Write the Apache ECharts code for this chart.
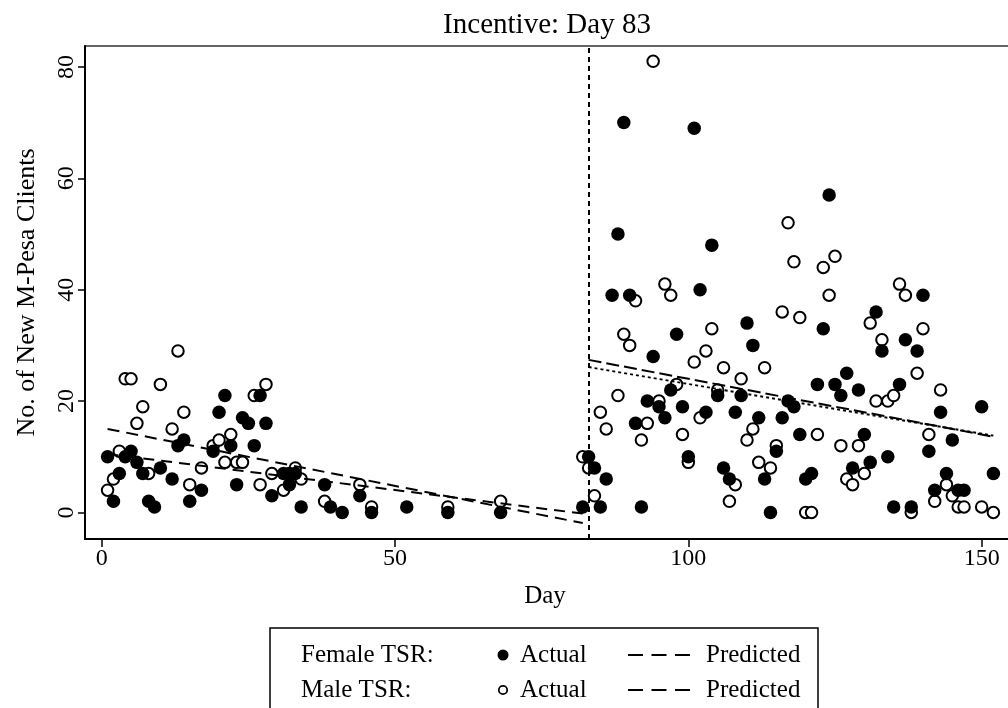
<!DOCTYPE html>
<html>
<head>
<meta charset="utf-8">
<script src="https://cdn.jsdelivr.net/npm/echarts@6/dist/echarts.min.js"></script>
<style>
html,body{margin:0;padding:0;background:#fff;}
#chart{width:1008px;height:708px;}
</style>
</head>
<body>
<div id="chart"></div>
<script>
// ---- data ----
const xTicks = [0, 50, 100, 150];
const yTicks = [0, 20, 40, 60, 80];
const incentiveDay = 83;

const femaleActual = [
  [1,10],[2,2],[3,7],[4,10],[5,11],[6,9],[7,7],[8,2],[9,1],[10,8],[12,6],[13,12],[14,13],[15,2],[17,4],
  [19,11],[20,18],[21,21],[22,12],[23,5],[24,17],[25,16],[26,12],[27,21],[28,16],[29,3],[31,7],[32,7],[32,5],
  [33,7],[34,1],[38,5],[39,1],[41,0],[44,3],[46,0],[52,1],[59,0],[68,0],[82,1],
  [83,10],[84,8],[85,1],[86,6],[87,39],[88,50],[89,70],[90,39],[91,16],[92,1],[93,20],[94,28],[95,19],[96,17],
  [97,22],[98,32],[99,19],[100,10],[101,69],[102,40],[103,18],[104,48],[105,21],[106,8],[107,6],[108,18],
  [109,21],[110,34],[111,30],[112,17],[113,6],[114,0],[115,11],[116,17],[117,20],[118,19],[119,14],[120,6],
  [121,7],[122,23],[123,33],[124,57],[125,23],[126,21],[127,25],[128,8],[129,22],[130,14],[131,9],[132,36],
  [133,29],[134,10],[135,1],[136,23],[137,31],[138,1],[139,29],[140,39],[141,11],[142,4],[143,18],[144,7],
  [145,13],[146,4],[147,4],[150,19],[152,7]
];

const maleActual = [
  [1,4],[2,6],[3,11],[4,24],[5,24],[6,16],[7,19],[8,7],[10,23],[12,15],[13,29],[14,18],[15,5],[17,8],
  [19,12],[20,13],[21,9],[22,14],[23,9],[24,9],[26,21],[27,5],[28,23],[29,7],[31,4],[33,8],[34,6],[38,2],
  [44,5],[46,1],[59,1],[68,2],
  [82,10],[83,8],[84,3],[85,18],[86,15],[88,21],[89,32],[90,30],[91,38],[92,13],[93,16],[94,81],[95,20],
  [96,41],[97,39],[98,23],[99,14],[100,9],[101,27],[102,17],[103,29],[104,33],[105,22],[106,26],[107,2],
  [108,5],[109,24],[110,13],[111,15],[112,9],[113,26],[114,8],[115,12],[116,36],[117,52],[118,45],[119,35],
  [120,0],[121,0],[122,14],[123,44],[124,39],[125,46],[126,12],[127,6],[128,5],[129,12],[130,7],[131,34],
  [132,20],[133,31],[134,20],[135,21],[136,41],[137,39],[138,0],[139,25],[140,33],[141,14],[142,2],[143,22],
  [144,5],[145,3],[146,1],[147,1],[150,1],[152,0]
];

const femalePredBefore = [[1,15.0],[82,-1.9]];
const malePredBefore   = [[1,10.5],[82,-0.2]];
const femalePredAfter  = [[83,27.4],[152,13.6]];
const malePredAfter    = [[83,26.1],[152,13.8]];

// ---- chart ----
const FONT = 'Liberation Serif';
const chart = echarts.init(document.getElementById('chart'), null, {renderer:'canvas'});

const lineBase = {type:'line', symbol:'none', silent:true, z:5, animation:false};

chart.setOption({
  animation:false,
  backgroundColor:'#ffffff',
  grid:{left:85, top:46, width:943, bottom:169, outerBoundsMode:'none', containLabel:false,
        show:true, borderColor:'#333', borderWidth:1.5, backgroundColor:'transparent'},
  xAxis:{
    type:'value', min:-2.85, max:157.9,
    splitLine:{show:false},
    axisLine:{show:true, onZero:false, lineStyle:{color:'#000', width:2}},
    axisTick:{show:true, length:8, lineStyle:{color:'#000', width:1.5}, customValues:xTicks},
    axisLabel:{color:'#000', fontFamily:FONT, fontSize:24, margin:8, customValues:xTicks}
  },
  yAxis:{
    type:'value', min:-4.76, max:83.75,
    name:'No. of New M-Pesa Clients', nameLocation:'middle', nameGap:45, nameRotate:90,
    nameTextStyle:{color:'#000', fontFamily:FONT, fontSize:26},
    splitLine:{show:false},
    axisLine:{show:true, onZero:false, lineStyle:{color:'#000', width:2}},
    axisTick:{show:true, length:7, lineStyle:{color:'#000', width:1.5}, customValues:yTicks},
    axisLabel:{color:'#000', fontFamily:FONT, fontSize:24, margin:6, rotate:90, customValues:yTicks}
  },
  series:[
    {type:'scatter', name:'Male Actual', data:maleActual, symbol:'circle', symbolSize:11.5,
     itemStyle:{color:'#fff', borderColor:'#000', borderWidth:2, opacity:1}, z:2,
     markLine:{silent:true, symbol:'none', label:{show:false},
       lineStyle:{color:'#000', type:[5,4], width:2},
       data:[{xAxis:incentiveDay}]}},
    {type:'scatter', name:'Female Actual', data:femaleActual, symbol:'circle', symbolSize:13.5,
     itemStyle:{color:'#000', borderWidth:0, opacity:1}, z:3},
    Object.assign({}, lineBase, {name:'Female Predicted', data:femalePredBefore, lineStyle:{color:'#000', width:2, type:[12,7]}}),
    Object.assign({}, lineBase, {name:'Male Predicted', data:malePredBefore, lineStyle:{color:'#000', width:2, type:[11,7]}}),
    Object.assign({}, lineBase, {name:'Female Predicted', data:femalePredAfter, lineStyle:{color:'#000', width:2, type:[13,5]}}),
    Object.assign({}, lineBase, {name:'Male Predicted', data:malePredAfter, lineStyle:{color:'#000', width:2, type:[3,3]}})
  ],
  graphic:[
    {type:'text', x:547, y:25, style:{text:'Incentive: Day 83', fill:'#000', font:'29px "Liberation Serif"', align:'center', verticalAlign:'middle'}},
    {type:'text', x:545, y:596, style:{text:'Day', fill:'#000', font:'25px "Liberation Serif"', align:'center', verticalAlign:'middle'}},
    // legend box
    {type:'rect', shape:{x:270, y:628, width:548, height:100}, style:{fill:'#fff', stroke:'#000', lineWidth:1.5}},
    {type:'text', x:301, y:655, style:{text:'Female TSR:', fill:'#000', font:'25px "Liberation Serif"', verticalAlign:'middle'}},
    {type:'text', x:301, y:690, style:{text:'Male TSR:', fill:'#000', font:'25px "Liberation Serif"', verticalAlign:'middle'}},
    {type:'circle', shape:{cx:503, cy:655, r:5.5}, style:{fill:'#000'}},
    {type:'circle', shape:{cx:503, cy:690, r:4.2}, style:{fill:'#fff', stroke:'#000', lineWidth:1.8}},
    {type:'text', x:520, y:655, style:{text:'Actual', fill:'#000', font:'25px "Liberation Serif"', verticalAlign:'middle'}},
    {type:'text', x:520, y:690, style:{text:'Actual', fill:'#000', font:'25px "Liberation Serif"', verticalAlign:'middle'}},
    {type:'line', shape:{x1:628, y1:655, x2:690, y2:655}, style:{stroke:'#000', lineWidth:2, lineDash:[15,8.5]}},
    {type:'line', shape:{x1:628, y1:690, x2:690, y2:690}, style:{stroke:'#000', lineWidth:2, lineDash:[15,8.5]}},
    {type:'text', x:706, y:655, style:{text:'Predicted', fill:'#000', font:'25px "Liberation Serif"', verticalAlign:'middle'}},
    {type:'text', x:706, y:690, style:{text:'Predicted', fill:'#000', font:'25px "Liberation Serif"', verticalAlign:'middle'}}
  ]
});
</script>
</body>
</html>
